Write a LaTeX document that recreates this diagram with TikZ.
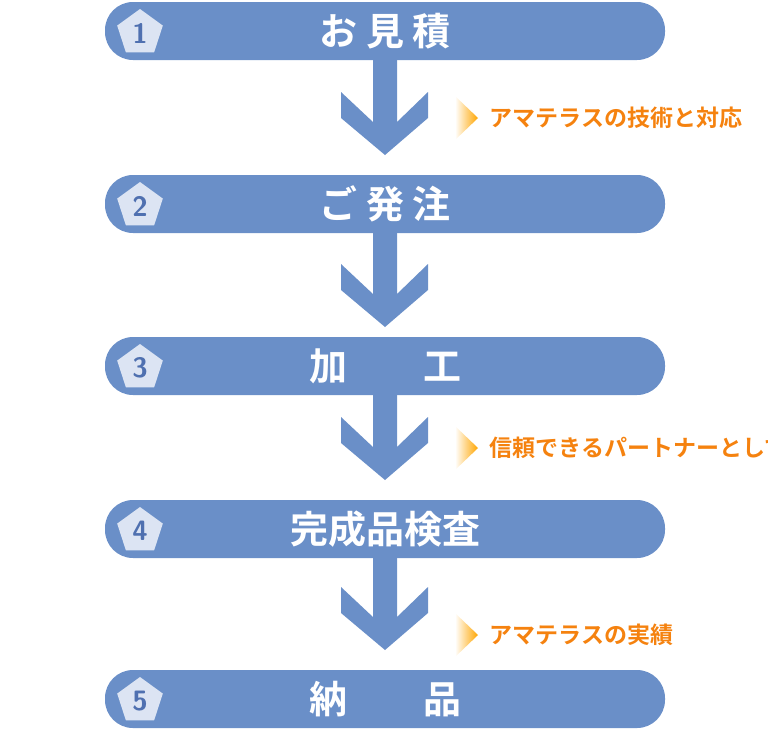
\documentclass[tikz,border=0pt]{standalone}
\usepackage{fontspec}
\newfontfamily\jpfont{Noto Sans CJK JP Bold}
\usetikzlibrary{shapes.geometric}
\definecolor{barblue}{HTML}{6A8FC8}
\definecolor{badgefill}{HTML}{DCE4F3}
\definecolor{badgenum}{HTML}{4F70B0}
\definecolor{noteorange}{HTML}{F5820F}
\tikzset{
  % step bar
  stepbar/.style={fill=barblue, rounded corners=28pt},
  % step title
  steptitle/.style={text=white, font=\jpfont\fontsize{38}{38}\selectfont},
  % number badge
  badge/.style={regular polygon, regular polygon sides=5, fill=badgefill,
    minimum size=48pt, inner sep=0pt, text=badgenum,
    font=\sffamily\bfseries\fontsize{28}{28}\selectfont},
  % orange note
  note/.style={anchor=west, text=noteorange, font=\jpfont\fontsize{23}{23}\selectfont},
}
\newcommand{\steparrow}[2]{% top y, tip y
  \fill[barblue] (373,#1) -- (397,#1) -- (397,#2-33) -- (428,#2-63)
    -- (428,#2-37) -- (385,#2) -- (341,#2-37) -- (341,#2-63)
    -- (373,#2-33) -- cycle;}
\newcommand{\notemark}[1]{%
  \shade[left color=white, right color=orange!70!yellow]
    (455,#1-22) -- (478,#1) -- (455,#1+22) -- cycle;}
\begin{document}
\begin{tikzpicture}[x=1pt, y=-1pt]
  \useasboundingbox (0,0) rectangle (768,729);
  % arrows between bars
  \steparrow{58}{155}
  \steparrow{230}{327}
  \steparrow{392}{480}
  \steparrow{555}{650}
  % bars
  \foreach \n/\top/\txt in {1/2/お\ 見\ 積, 2/175/ご\ 発\ 注, 3/337/加\qquad 工,
      4/500/完成品検査, 5/670/納\qquad 品} {
    \fill[stepbar] (105,\top) rectangle (665,\top+58);
    \node[badge] (b\n) at (140,\top+31) {\n};
    \node[steptitle] (t\n) at (385,\top+29) {\txt};
  }
  % notes
  \notemark{118}
  \node[note] (n1) at (486,118) {アマテラスの技術と対応};
  \notemark{448}
  \node[note] (n2) at (486,448) {信頼できるパートナーとして};
  \notemark{635}
  \node[note] (n3) at (486,635) {アマテラスの実績};
\end{tikzpicture}
\end{document}
